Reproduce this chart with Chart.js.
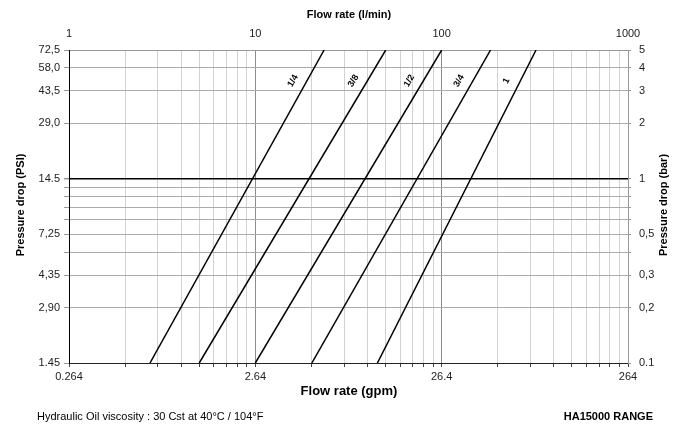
<!DOCTYPE html>
<html>
<head>
<meta charset="utf-8">
<script src="https://cdn.jsdelivr.net/npm/chart.js@4.4.0/dist/chart.umd.min.js"></script>
<style>
  html, body { margin: 0; padding: 0; background: #fff; }
  #wrap { width: 682px; height: 425px; position: relative; }
</style>
</head>
<body>
<div id="wrap"><canvas id="grafico"></canvas></div>
<script>
// tamaños de conexión y caudal (l/min) en los extremos de cada recta
const sizes = ['1/4', '3/8', '1/2', '3/4', '1'];
const flowAtMin = [2.72, 5.0, 10, 20.1, 45.2];    // a 0.1 bar
const flowAtMax = [23.4, 50.1, 100, 183, 321];    // a 5 bar
const pressMin = 0.1;
const pressMax = 5;
const labelPress = 3.4;

const flowTicks = [1, 10, 100, 1000];
const gpmLabels = ['0.264', '2.64', '26.4', '264'];
const barTicks = [0.1, 0.2, 0.3, 0.5, 1, 2, 3, 4, 5];
const barLabels = ['0.1', '0,2', '0,3', '0,5', '1', '2', '3', '4', '5'];
const psiLabels = ['1.45', '2,90', '4,35', '7,25', '14.5', '29,0', '43,5', '58,0', '72,5'];
const barGrid = [0.1, 0.2, 0.3, 0.4, 0.5, 0.6, 0.7, 0.8, 0.9, 1, 2, 3, 4, 5];

const flowGrid = [];
[1, 10, 100].forEach(d => { for (let m = 1; m < 10; m++) flowGrid.push(m * d); });
flowGrid.push(1000);

const near = (a, b) => Math.abs(a - b) < 1e-6 * b;
const idxOf = (arr, v) => arr.findIndex(t => near(t, v));

const tickFont = { family: 'Liberation Sans, Arial, sans-serif', size: 11 };

const textos = {
  id: 'textos',
  afterDraw(chart) {
    const ctx = chart.ctx;
    const sx = chart.scales.x, sy = chart.scales.y;
    ctx.save();
    ctx.fillStyle = '#000';
    ctx.textBaseline = 'middle';
    ctx.textAlign = 'center';
    ctx.font = 'bold 11px Liberation Sans, Arial, sans-serif';
    ctx.fillText('Flow rate (l/min)', 349, 15);
    ctx.font = 'bold 13px Liberation Sans, Arial, sans-serif';
    ctx.fillText('Flow rate (gpm)', 349, 391);

    ctx.font = 'bold 11px Liberation Sans, Arial, sans-serif';
    [[21, 'Pressure drop (PSI)'], [664, 'Pressure drop (bar)']].forEach(([x, t]) => {
      ctx.save();
      ctx.translate(x, 205);
      ctx.rotate(-Math.PI / 2);
      ctx.fillText(t, 0, 0);
      ctx.restore();
    });

    ctx.font = '11px Liberation Sans, Arial, sans-serif';
    ctx.textAlign = 'left';
    ctx.fillText('Hydraulic Oil viscosity : 30 Cst at 40°C / 104°F', 37, 417);
    ctx.font = 'bold 11px Liberation Sans, Arial, sans-serif';
    ctx.textAlign = 'right';
    ctx.fillText('HA15000 RANGE', 653, 417);

    // etiquetas sobre las rectas
    ctx.font = 'bold 9px Liberation Sans, Arial, sans-serif';
    ctx.textAlign = 'center';
    sizes.forEach((s, i) => {
      const x0 = sx.getPixelForValue(flowAtMin[i]), y0 = sy.getPixelForValue(pressMin);
      const x1 = sx.getPixelForValue(flowAtMax[i]), y1 = sy.getPixelForValue(pressMax);
      const yl = sy.getPixelForValue(labelPress);
      const xl = x0 + (x1 - x0) * (yl - y0) / (y1 - y0);
      const ang = Math.atan2(y1 - y0, x1 - x0);
      ctx.save();
      ctx.translate(xl - 14, yl);
      ctx.rotate(ang);
      ctx.fillText(s, 0, 0);
      ctx.restore();
    });
    ctx.restore();
  }
};

new Chart(document.getElementById('grafico'), {
  type: 'scatter',
  data: {
    datasets: sizes.map((s, i) => ({
      label: s,
      data: [{ x: flowAtMin[i], y: pressMin }, { x: flowAtMax[i], y: pressMax }],
      showLine: true,
      borderColor: '#000',
      borderWidth: 1.5,
      pointRadius: 0,
      xAxisID: 'x',
      yAxisID: 'y'
    }))
  },
  options: {
    responsive: true,
    maintainAspectRatio: false,
    animation: false,
    layout: { padding: 0 },
    plugins: { legend: { display: false }, tooltip: { enabled: false } },
    scales: {
      x: {
        type: 'logarithmic',
        position: 'bottom',
        min: 1, max: 1000,
        afterBuildTicks: s => { s.ticks = flowGrid.map(v => ({ value: v })); },
        afterFit: s => { s.height = 62; },
        ticks: {
          autoSkip: false, maxRotation: 0, padding: 3, color: '#222', font: tickFont,
          callback: v => { const k = idxOf(flowTicks, v); return k >= 0 ? gpmLabels[k] : ''; }
        },
        grid: {
          color: c => (c.tick && (near(c.tick.value, 10) || near(c.tick.value, 100))) ? '#8c8c8c' : '#d2d2d2',
          tickColor: '#444',
          tickLength: 4
        },
        border: { color: '#222' }
      },
      xTop: {
        type: 'logarithmic',
        position: 'top',
        min: 1, max: 1000,
        afterBuildTicks: s => { s.ticks = flowTicks.map(v => ({ value: v })); },
        afterFit: s => { s.height = 50; },
        ticks: { autoSkip: false, maxRotation: 0, padding: 9, color: '#222', font: tickFont, callback: v => String(v) },
        grid: { drawOnChartArea: false, drawTicks: false },
        border: { color: '#999' }
      },
      y: {
        type: 'logarithmic',
        position: 'left',
        min: pressMin, max: pressMax,
        afterBuildTicks: s => { s.ticks = barGrid.map(v => ({ value: v })); },
        afterFit: s => { s.width = 69; },
        ticks: {
          autoSkip: false, padding: 4, color: '#222', font: tickFont,
          callback: v => { const k = idxOf(barTicks, v); return k >= 0 ? psiLabels[k] : ''; }
        },
        grid: {
          color: c => (c.tick && near(c.tick.value, 1)) ? '#000' : '#ababab',
          lineWidth: c => (c.tick && near(c.tick.value, 1)) ? 1.5 : 1,
          tickColor: '#999',
          tickLength: 5
        },
        border: { color: '#000' }
      },
      y2: {
        type: 'logarithmic',
        position: 'right',
        min: pressMin, max: pressMax,
        afterBuildTicks: s => { s.ticks = barGrid.map(v => ({ value: v })); },
        afterFit: s => { s.width = 54; },
        ticks: {
          autoSkip: false, padding: 8, color: '#222', font: tickFont,
          callback: v => { const k = idxOf(barTicks, v); return k >= 0 ? barLabels[k] : ''; }
        },
        grid: { drawOnChartArea: false, tickColor: '#999', tickLength: 3 },
        border: { color: '#999' }
      }
    }
  },
  plugins: [textos]
});
</script>
</body>
</html>
